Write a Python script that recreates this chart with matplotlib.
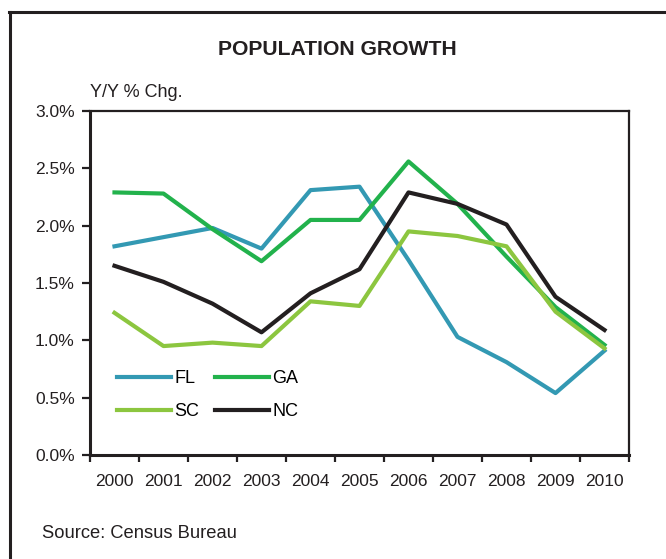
import matplotlib
matplotlib.use("Agg")
import matplotlib.pyplot as plt
from matplotlib.lines import Line2D
import numpy as np

years = ["2000", "2001", "2002", "2003", "2004", "2005", "2006", "2007", "2008", "2009", "2010"]
fl = [1.82, 1.90, 1.98, 1.80, 2.31, 2.34, 1.70, 1.03, 0.81, 0.54, 0.91]
ga = [2.29, 2.28, 1.97, 1.69, 2.05, 2.05, 2.56, 2.19, 1.73, 1.29, 0.96]
sc = [1.24, 0.95, 0.98, 0.95, 1.34, 1.30, 1.95, 1.91, 1.82, 1.25, 0.93]
nc = [1.65, 1.51, 1.32, 1.07, 1.41, 1.62, 2.29, 2.19, 2.01, 1.38, 1.09]
yticks = [0.0, 0.5, 1.0, 1.5, 2.0, 2.5, 3.0]

plt.rcParams['font.family'] = ['Liberation Sans', 'DejaVu Sans']
dark = '#231f20'

W, H = 666, 559
fig = plt.figure(figsize=(W / 100, H / 100), dpi=100)

# outer border (top and left only visible)
fig.add_artist(Line2D([9 / W, 1.0], [1 - 11.5 / H, 1 - 11.5 / H], color=dark, lw=2.2))
fig.add_artist(Line2D([9.5 / W, 9.5 / W], [0.0, 1 - 11.5 / H], color=dark, lw=2.2))

left, right, top, bottom = 90, 629, 111, 455
ax = fig.add_axes([left / W, 1 - bottom / H, (right - left) / W, (bottom - top) / H])

x = np.arange(len(years))
lines = {}
lines['FL'], = ax.plot(x, fl, color='#3399b3', lw=3.0, label='FL')
lines['GA'], = ax.plot(x, ga, color='#22b24c', lw=3.0, label='GA')
lines['SC'], = ax.plot(x, sc, color='#8cc63f', lw=3.0, label='SC')
lines['NC'], = ax.plot(x, nc, color=dark, lw=3.0, label='NC')

ax.set_xlim(-0.5, len(years) - 0.5)
ax.set_ylim(0, 3.0)
ax.set_yticks(yticks)
ax.set_yticklabels([f"{v:.1f}%" for v in yticks])
ax.set_xticks(np.arange(-0.5, len(years), 1.0))
ax.set_xticklabels([])
ax.set_xticks(x, minor=True)
ax.set_xticklabels(years, minor=True)
ax.tick_params(axis='x', which='major', direction='out', length=5, width=1.6, color=dark)
ax.tick_params(axis='x', which='minor', length=0, pad=13.5, labelsize=12.5, labelcolor=dark)
ax.tick_params(axis='y', direction='out', length=6, width=1.6, color=dark, labelsize=12.5,
               labelcolor=dark, pad=5)

for s in ['top', 'right']:
    ax.spines[s].set_linewidth(1.6)
    ax.spines[s].set_color(dark)
for s in ['left', 'bottom']:
    ax.spines[s].set_linewidth(2.2)
    ax.spines[s].set_color(dark)

order = ['FL', 'SC', 'GA', 'NC']  # column-major fill -> rows FL GA / SC NC
ax.legend([lines[k] for k in order], order, ncol=2, loc='upper left',
          bbox_to_anchor=(0.05, 0.246), frameon=False,
          fontsize=13, handlelength=3.0, handletextpad=0.17, columnspacing=0.9,
          labelspacing=0.87, borderaxespad=0, borderpad=0)

fig.text(337 / W, 1 - 55 / H, "POPULATION GROWTH", ha='center', va='baseline',
         fontsize=15.2, fontweight='bold', color=dark)
fig.text(90 / W, 1 - 97 / H, "Y/Y % Chg.", ha='left', va='baseline', fontsize=13, color=dark)
fig.text(42 / W, 1 - 538 / H, "Source: Census Bureau", ha='left', va='baseline',
         fontsize=13.2, color=dark)

fig.savefig("out.png", dpi=100)
